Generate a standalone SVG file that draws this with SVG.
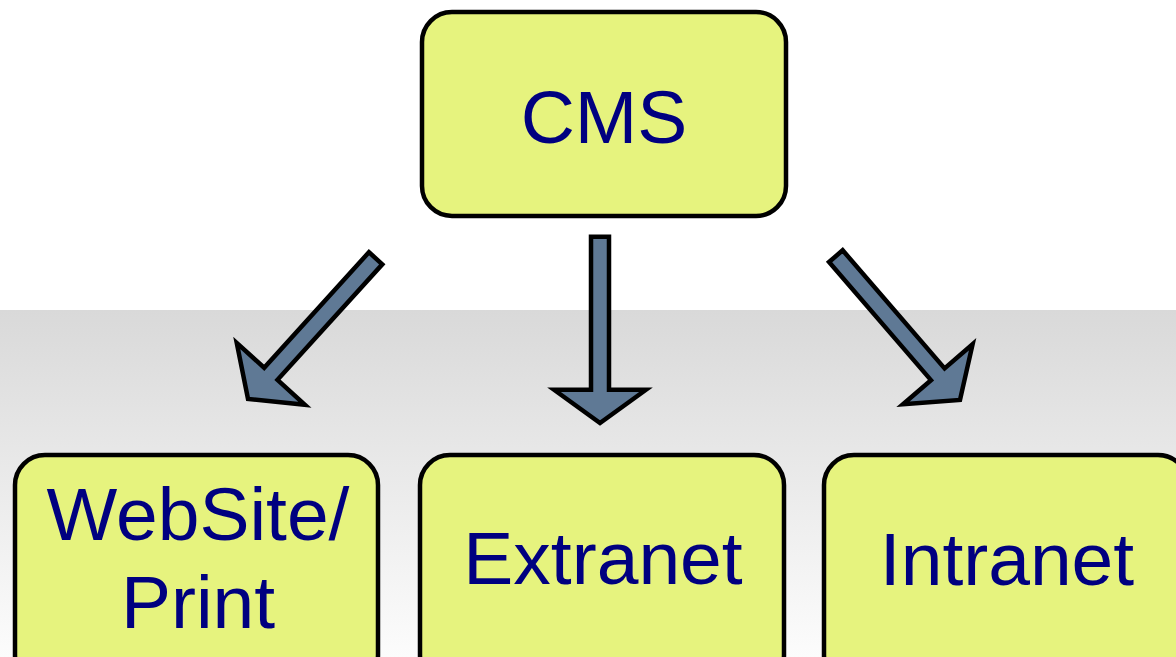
<svg xmlns="http://www.w3.org/2000/svg" width="1176" height="657" viewBox="0 0 1176 657">
  <defs>
    <linearGradient id="floor" x1="0" y1="0" x2="0" y2="1">
      <stop offset="0" stop-color="#d9d9d9"/>
      <stop offset="1" stop-color="#fcfcfc"/>
    </linearGradient>
    <!-- block arrow pointing down, tip at the origin -->
    <polygon id="blockArrow" points="-9,-190 9,-190 9,-34 46,-34 0,0 -46,-34 -9,-34"/>
  </defs>
  <style>
    .box { fill: #e6f37e; stroke: #000; stroke-width: 4.5; }
    .label { font-family: "Liberation Sans", Arial, sans-serif; font-size: 75px; fill: #000080; text-anchor: middle; }
    .arrow { fill: #5f7995; stroke: #000; stroke-width: 4.5; stroke-linejoin: miter; }
  </style>

  <!-- background -->
  <rect x="0" y="0" width="1176" height="657" fill="#ffffff"/>
  <rect x="0" y="310" width="1176" height="347" fill="url(#floor)"/>

  <g id="cms">
    <rect class="box" x="422" y="12" width="364" height="204" rx="30" ry="30"/>
    <text class="label" x="604" y="143">CMS</text>
  </g>

  <g id="website">
    <rect class="box" x="15" y="455" width="363" height="230" rx="30" ry="30"/>
    <text class="label" x="198" y="540">WebSite/</text>
    <text class="label" x="198" y="628">Print</text>
  </g>

  <g id="extranet">
    <rect class="box" x="420" y="455" width="364" height="230" rx="30" ry="30"/>
    <text class="label" x="603" y="584">Extranet</text>
  </g>

  <g id="intranet">
    <rect class="box" x="824" y="455" width="364" height="230" rx="30" ry="30"/>
    <text class="label" x="1007" y="585">Intranet</text>
  </g>

  <g id="connectors">
    <use href="#blockArrow" class="arrow" transform="translate(248,399) rotate(42.2)"/>
    <use href="#blockArrow" class="arrow" transform="translate(600,423) scale(1,0.98)"/>
    <use href="#blockArrow" class="arrow" transform="translate(960,400) rotate(-40.8)"/>
  </g>
</svg>
